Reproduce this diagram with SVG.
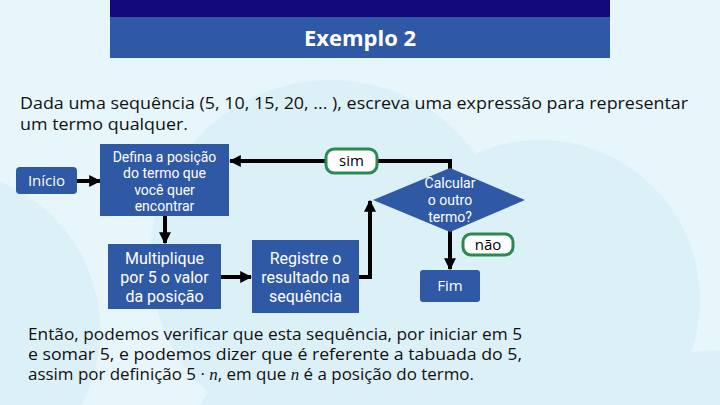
<svg xmlns="http://www.w3.org/2000/svg" width="720" height="405" viewBox="0 0 720 405">
<defs>
<style>
.t{font-family:"Open Sans","Liberation Sans",sans-serif;}
.nt{font-family:Roboto,"Liberation Sans",sans-serif;fill:#ffffff;text-anchor:middle;}
.st{font-family:"Open Sans","Liberation Sans",sans-serif;fill:#ffffff;text-anchor:middle;}
.node{fill:#2f58a5;}
.lbl{fill:#ffffff;stroke:#2a8a4f;stroke-width:3;}
.lt{font-family:"Open Sans","Liberation Sans",sans-serif;fill:#000;font-size:15px;text-anchor:middle;}
.con{fill:none;stroke:#000;stroke-width:4;}
.para{font-family:"Open Sans","Liberation Sans",sans-serif;fill:#111;font-size:17px;}
</style>
<marker id="ah" viewBox="0 0 10 10" refX="9" refY="5" markerWidth="3" markerHeight="3" orient="auto" markerUnits="strokeWidth">
<path d="M0,0 L10,5 L0,10 z" fill="#000"/>
</marker>
</defs>
<rect x="0" y="0" width="720" height="405" fill="#e6f6fb"/>
<g id="background" fill="#d6edf6" opacity="0.6">
<circle cx="330" cy="260" r="180"/>
<circle cx="540" cy="300" r="160"/>
<circle cx="-60" cy="330" r="160"/>
<circle cx="410" cy="540" r="250"/>
<circle cx="720" cy="500" r="150"/>
</g>
<g id="title">
<rect x="110" y="0" width="500" height="17" fill="#12087b"/>
<rect x="110" y="17" width="500" height="41" fill="#2f58a5"/>
<text x="360" y="46" class="t" font-size="22" font-weight="bold" fill="#fff" text-anchor="middle">Exemplo 2</text>
</g>
<g id="intro">
<text x="20" y="109" class="para" textLength="668" lengthAdjust="spacingAndGlyphs">Dada uma sequência (5, 10, 15, 20, ... ), escreva uma expressão para representar</text>
<text x="20" y="130" class="para" textLength="168" lengthAdjust="spacingAndGlyphs">um termo qualquer.</text>
</g>
<g id="connectors">
<line class="con" x1="77" y1="181" x2="100" y2="181" marker-end="url(#ah)"/>
<polyline class="con" points="450,170 450,161 377,161"/>
<line class="con" x1="326" y1="161" x2="230" y2="161" marker-end="url(#ah)"/>
<line class="con" x1="165" y1="216" x2="165" y2="243" marker-end="url(#ah)"/>
<line class="con" x1="221" y1="277" x2="251" y2="277" marker-end="url(#ah)"/>
<polyline class="con" points="359,277 370,277 370,201" marker-end="url(#ah)"/>
<line class="con" x1="450" y1="231" x2="450" y2="269" marker-end="url(#ah)"/>
</g>
<g id="inicio">
<rect class="node" x="16" y="167" width="61" height="27" rx="4"/>
<text class="st" x="46.5" y="186" font-size="15">Início</text>
</g>
<g id="defina">
<rect class="node" x="100" y="144" width="129" height="72"/>
<text class="nt" x="164.5" y="162" font-size="14">Defina a posição</text>
<text class="nt" x="164.5" y="178" font-size="14">do termo que</text>
<text class="nt" x="164.5" y="195" font-size="14">você quer</text>
<text class="nt" x="164.5" y="211" font-size="14">encontrar</text>
</g>
<g id="sim">
<rect class="lbl" x="326" y="149" width="51" height="24" rx="8"/>
<text class="lt" x="351.5" y="166">sim</text>
</g>
<g id="calcular">
<polygon class="node" points="450,168 525,200 450,232 373,200"/>
<text class="nt" x="450" y="188" font-size="14">Calcular</text>
<text class="nt" x="450" y="205" font-size="14">o outro</text>
<text class="nt" x="450" y="222" font-size="14">termo?</text>
</g>
<g id="multiplique">
<rect class="node" x="108" y="244" width="113" height="65"/>
<text class="nt" x="164.5" y="264" font-size="16">Multiplique</text>
<text class="nt" x="164.5" y="283" font-size="16">por 5 o valor</text>
<text class="nt" x="164.5" y="302" font-size="16">da posição</text>
</g>
<g id="registre">
<rect class="node" x="252" y="240" width="107" height="73"/>
<text class="nt" x="305.5" y="264" font-size="16">Registre o</text>
<text class="nt" x="305.5" y="283" font-size="16">resultado na</text>
<text class="nt" x="305.5" y="302" font-size="16">sequência</text>
</g>
<g id="nao">
<rect class="lbl" x="463" y="234" width="50" height="21" rx="8"/>
<text class="lt" x="488" y="250">não</text>
</g>
<g id="fim">
<rect class="node" x="420" y="270" width="60" height="32" rx="3"/>
<text class="st" x="450" y="291" font-size="15">Fim</text>
</g>
<g id="conclusion" class="t" font-size="16" fill="#111">
<text x="28" y="340" textLength="494" lengthAdjust="spacingAndGlyphs">Então, podemos verificar que esta sequência, por iniciar em 5</text>
<text x="28" y="360" textLength="494" lengthAdjust="spacingAndGlyphs">e somar 5, e podemos dizer que é referente a tabuada do 5,</text>
<text x="28" y="380" textLength="446" lengthAdjust="spacingAndGlyphs">assim por definição 5 · <tspan font-family="Liberation Serif, serif" font-style="italic">n</tspan>, em que <tspan font-family="Liberation Serif, serif" font-style="italic">n</tspan> é a posição do termo.</text>
</g>
</svg>
